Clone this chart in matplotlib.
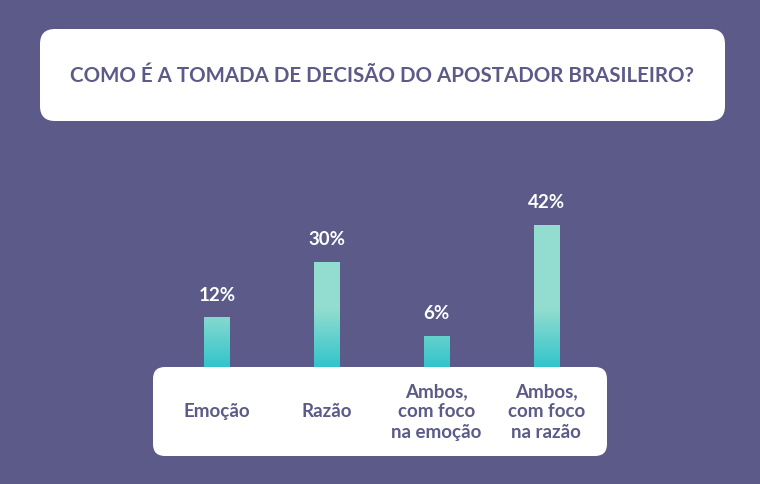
import numpy as np
import matplotlib
matplotlib.use("Agg")
from matplotlib import pyplot as plt
from matplotlib.patches import FancyBboxPatch
from matplotlib.colors import LinearSegmentedColormap

categories = ["Emoção", "Razão", "Ambos,\ncom foco\nna emoção", "Ambos,\ncom foco\nna razão"]
values = [12, 30, 6, 42]
title = "COMO É A TOMADA DE DECISÃO DO APOSTADOR BRASILEIRO?"

BG = "#5b5a89"
LIGHT = "#93ddd0"
TEAL = "#33c4cb"

plt.rcParams['font.family'] = ['Lato', 'DejaVu Sans']

W, H = 760, 485
fig = plt.figure(figsize=(W / 100, H / 100), dpi=100)
fig.patch.set_facecolor(BG)


def px_axes(x0, y0, x1, y1, zorder):
    # axes placed by pixel box (top-left origin)
    ax = fig.add_axes([x0 / W, 1 - y1 / H, (x1 - x0) / W, (y1 - y0) / H])
    ax.set_zorder(zorder)
    ax.patch.set_alpha(0)
    ax.axis("off")
    return ax


# background layer: title box
bg = px_axes(0, 0, W, H, 0)
bg.set_xlim(0, W)
bg.set_ylim(H, 0)
bg.add_patch(FancyBboxPatch((40 + 15, 30 + 15), 685 - 30, 92 - 30,
                            boxstyle="round,pad=15", fc="white", ec="none"))
bg.text(382, 76, title, ha="center", va="center", color=BG,
        fontsize=14.8, fontweight="bold")

# bars
k = 3.078          # px per percent
base = 355         # pixel row of 0%
top_px, bot_px = 100, 368
ax = px_axes(162, top_px, 601, bot_px, 1)
ax.set_xlim(-0.5, len(values) - 0.5)
ylo = -(bot_px - base) / k
yhi = (base - top_px) / k
ax.set_ylim(ylo, yhi)

x = np.arange(len(values))
bars = ax.bar(x, values, width=0.228, color="none", edgecolor="none")
# extend each bar down to the bottom edge (hidden behind the label box)
for b, v in zip(bars, values):
    b.set_y(ylo)
    b.set_height(v - ylo)

cmap = LinearSegmentedColormap.from_list("g", [TEAL, LIGHT])
ys = np.linspace(ylo, yhi, 300)
light_at = (base - 310) / k
grad = np.clip((ys - ylo) / (light_at - ylo), 0, 1)[:, None]
for b in bars:
    im = ax.imshow(grad, cmap=cmap, vmin=0, vmax=1, aspect="auto", origin="lower",
                   extent=[-0.5, len(values) - 0.5, ylo, yhi], interpolation="bilinear")
    im.set_clip_path(b)

for xi, v in zip(x, values):
    ax.annotate(f"{v}%", (xi, v), xytext=(0, 23), textcoords="offset pixels",
                ha="center", va="center", color="white", fontsize=13.5, fontweight="bold")

# foreground layer: category box
fg = px_axes(0, 0, W, H, 2)
fg.set_xlim(0, W)
fg.set_ylim(H, 0)
fg.add_patch(FancyBboxPatch((153 + 12, 368 + 12), 454 - 24, 89 - 24,
                            boxstyle="round,pad=12", fc="white", ec="none"))

ax.figure.canvas.draw()
for xi, cat in zip(x, categories):
    px = ax.transData.transform((xi, 0))[0]
    fg.text(px, 412, cat, ha="center", va="center", color=BG,
            fontsize=13.5, fontweight="bold", linespacing=1.22)

plt.savefig("out.png", dpi=100, facecolor=BG)
